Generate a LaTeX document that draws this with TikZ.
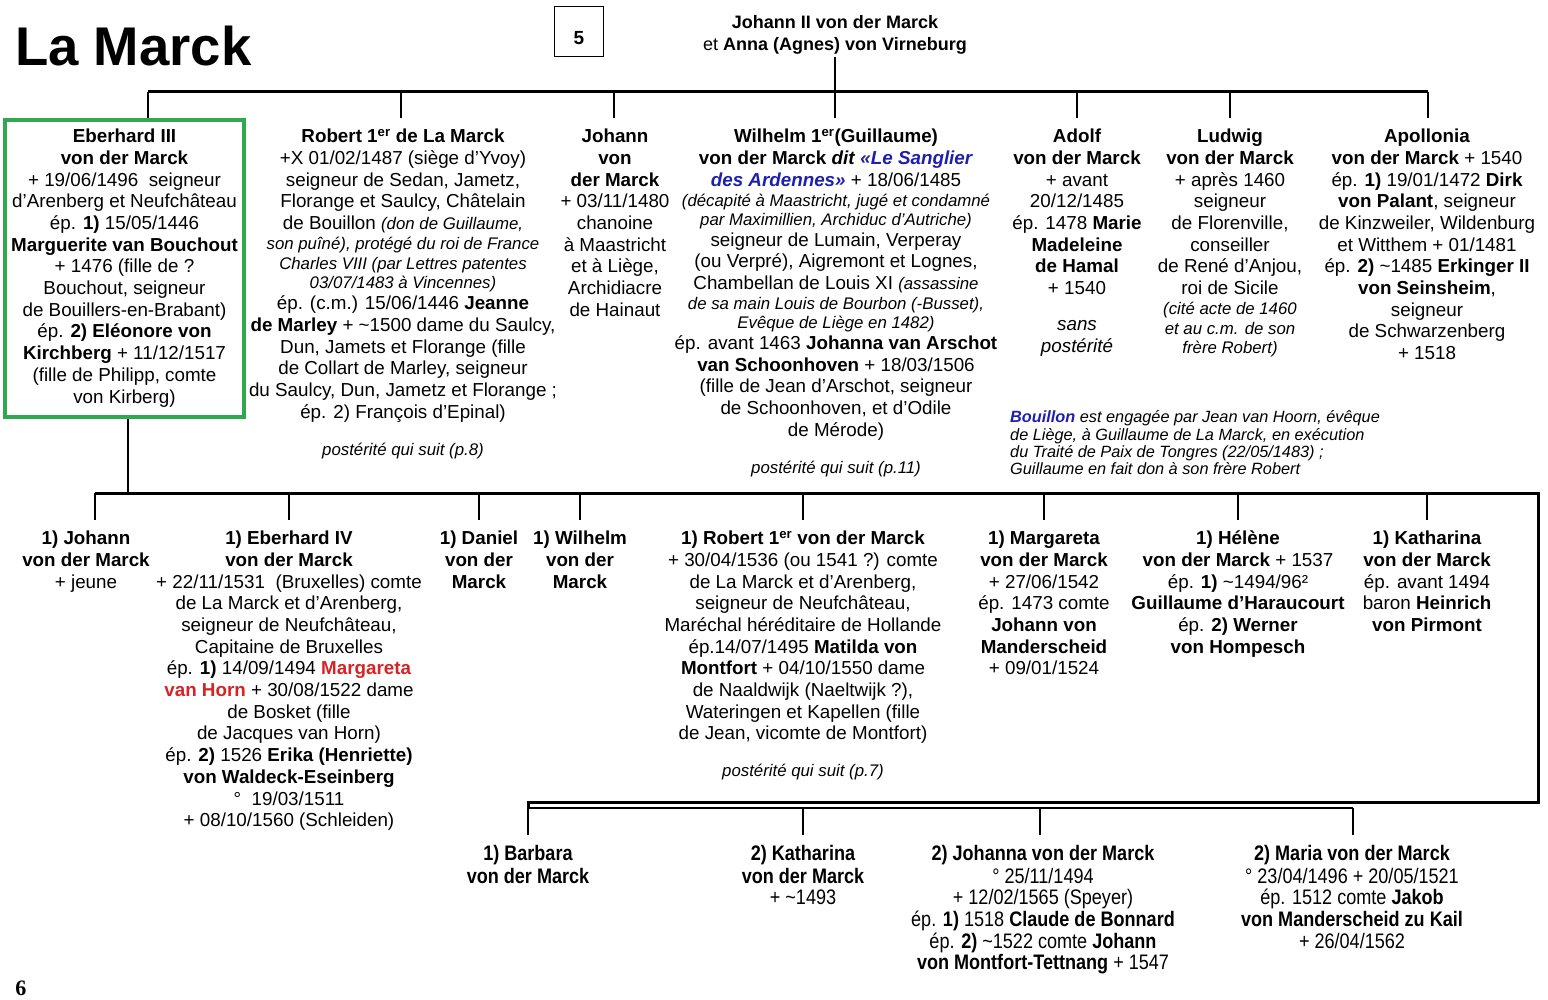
\documentclass[tikz,border=0pt]{standalone}
\usepackage{fontspec}
\setmainfont{Liberation Sans}
\newfontfamily\seriffont{Liberation Serif}
\newfontfamily\narrowfont[FakeStretch=0.86]{Liberation Sans}
\definecolor{boxgreen}{RGB}{48,168,80}
\definecolor{nameblue}{RGB}{30,30,175}
\definecolor{namered}{RGB}{215,35,35}
\newcommand{\ita}[1]{{\fontsize{16.8}{20}\selectfont\itshape #1}}
\newcommand{\bl}[1]{\textcolor{nameblue}{\textbf{\textit{#1}}}}
\newcommand{\rd}[1]{\textcolor{namered}{\textbf{#1}}}
\newcommand{\tld}{\textasciitilde}
\begin{document}
\begin{tikzpicture}[x=1pt,y=-1pt,
  txt/.style={font=\fontsize{18.8}{21.7}\selectfont, align=center, inner sep=0pt},
  person/.style={txt, anchor=north, outer xsep=0pt, outer ysep=9.5pt},
  narrowp/.style={person, outer ysep=10.4pt, font=\narrowfont\fontsize{21}{21.6}\selectfont},
  bus/.style={line width=3pt, line join=miter},
  lowbus/.style={line width=2.4pt, line join=miter},
  drop/.style={line width=1.8pt},
]
\useasboundingbox (0,0) rectangle (1548,1000);

% title and page box
\node[anchor=base west, inner sep=0pt, font=\bfseries\fontsize{54.5}{60}\selectfont] (title) at (15,66) {La Marck};
\node[draw, line width=1.2pt, minimum width=49pt, minimum height=50pt, inner sep=0pt,
      text height=27pt, text depth=0pt, font=\bfseries\fontsize{19}{22}\selectfont] (pg) at (579,31.5) {5};
\node[txt, anchor=north, font=\bfseries\fontsize{18}{22}\selectfont] (top) at (835,13)
  {\strut Johann II von der Marck\\ \textmd{et} Anna (Agnes) von Virneburg\strut};

% first bus
\coordinate (b1) at (148,92);
\coordinate (b2) at (401,92);
\coordinate (b3) at (614,92);
\coordinate (b4) at (835,92);
\coordinate (b5) at (1077,92);
\coordinate (b6) at (1230,92);
\coordinate (b7) at (1428,92);

% generation 1
\node[txt, draw=boxgreen, line width=3.6pt, minimum width=239.4pt, minimum height=297.4pt] (e3) at (124.5,268.5)
 {\strut\textbf{Eberhard III}\\
  \textbf{von der Marck}\\
  + 19/06/1496 \ seigneur\\
  d’Arenberg et Neufchâteau\\
  ép. \textbf{1)} 15/05/1446\\
  \textbf{Marguerite van Bouchout}\\
  + 1476 (fille de ?\\
  Bouchout, seigneur\\
  de Bouillers-en-Brabant)\\
  ép. \textbf{2) Eléonore von}\\
  \textbf{Kirchberg} + 11/12/1517\\
  (fille de Philipp, comte\\
  von Kirberg)\strut};

\node[person] (r1) at (403,118)
 {\strut\textbf{Robert 1\textsuperscript{er} de La Marck}\\
  +X 01/02/1487 (siège d’Yvoy)\\
  seigneur de Sedan, Jametz,\\
  Florange et Saulcy, Châtelain\\
  de Bouillon \ita{(don de Guillaume,}\\[-1.5pt]
  \ita{son puîné), protégé du roi de France}\\[-1.7pt]
  \ita{Charles VIII (par Lettres patentes}\\[-2.5pt]
  \ita{03/07/1483 à Vincennes)}\\[-0.7pt]
  ép. (c.m.) 15/06/1446 \textbf{Jeanne}\\
  \textbf{de Marley} + \tld1500 dame du Saulcy,\\
  Dun, Jamets et Florange (fille\\
  de Collart de Marley, seigneur\\
  du Saulcy, Dun, Jametz et Florange ;\\
  ép. 2) François d’Epinal)\\[15.3pt]
  \ita{postérité qui suit (p.8)}};

\node[person] (j1) at (615,118)
 {\strut\textbf{Johann}\\
  \textbf{von}\\
  \textbf{der Marck}\\
  + 03/11/1480\\
  chanoine\\
  à Maastricht\\
  et à Liège,\\
  Archidiacre\\
  de Hainaut};

\node[person] (w1) at (836,118)
 {\strut\textbf{Wilhelm 1\textsuperscript{er}(Guillaume)}\\
  \textbf{von der Marck} \textbf{\textit{dit}} \bl{«Le Sanglier}\\
  \bl{des Ardennes»} + 18/06/1485\\[-1.7pt]
  \ita{(décapité à Maastricht, jugé et condamné}\\[-2.7pt]
  \ita{par Maximillien, Archiduc d’Autriche)}\\[-0.7pt]
  seigneur de Lumain, Verperay\\
  (ou Verpré), Aigremont et Lognes,\\
  Chambellan de Louis XI \ita{(assassine}\\[-1.7pt]
  \ita{de sa main Louis de Bourbon (-Busset),}\\[-2.7pt]
  \ita{Evêque de Liège en 1482)}\\[-0.7pt]
  ép. avant 1463 \textbf{Johanna van Arschot}\\
  \textbf{van Schoonhoven} + 18/03/1506\\
  (fille de Jean d’Arschot, seigneur\\
  de Schoonhoven, et d’Odile\\
  de Mérode)\\[15.3pt]
  \ita{postérité qui suit (p.11)}};

\node[person] (a1) at (1077,118)
 {\strut\textbf{Adolf}\\
  \textbf{von der Marck}\\
  + avant\\
  20/12/1485\\
  ép. 1478 \textbf{Marie}\\
  \textbf{Madeleine}\\
  \textbf{de Hamal}\\
  + 1540\\[14.3pt]
  \textit{sans}\\
  \textit{postérité}};

\node[person] (l1) at (1230,118)
 {\strut\textbf{Ludwig}\\
  \textbf{von der Marck}\\
  + après 1460\\
  seigneur\\
  de Florenville,\\
  conseiller\\
  de René d’Anjou,\\
  roi de Sicile\\[-1.7pt]
  \ita{(cité acte de 1460}\\[-1.7pt]
  \ita{et au c.m. de son}\\[-2.7pt]
  \ita{frère Robert)}};

\node[person] (p1) at (1427,118)
 {\strut\textbf{Apollonia}\\
  \textbf{von der Marck} + 1540\\
  ép. \textbf{1)} 19/01/1472 \textbf{Dirk}\\
  \textbf{von Palant}, seigneur\\
  de Kinzweiler, Wildenburg\\
  et Witthem + 01/1481\\
  ép. \textbf{2)} \tld1485 \textbf{Erkinger II}\\
  \textbf{von Seinsheim},\\
  seigneur\\
  de Schwarzenberg\\
  + 1518};

\node[anchor=north west, align=left, inner sep=0pt, font=\fontsize{16.3}{17.3}\selectfont\itshape] (note) at (1010,410.4)
 {\strut\bl{Bouillon} est engagée par Jean van Hoorn, évêque\\
  de Liège, à Guillaume de La Marck, en exécution\\
  du Traité de Paix de Tongres (22/05/1483) ;\\
  Guillaume en fait don à son frère Robert};

% connectors generation 1
\draw[bus] (b1) -- (b7);
\draw[drop] (top.south) -- (b4);
\draw[drop] (b1) -- (b1 |- e3.north);
\draw[drop] (b2) -- (b2 |- r1.north);
\draw[drop] (b3) -- (b3 |- j1.north);
\draw[drop] (b4) -- (b4 |- w1.north);
\draw[drop] (b5) -- (b5 |- a1.north);
\draw[drop] (b6) -- (b6 |- l1.north);
\draw[drop] (b7) -- (b7 |- p1.north);

% second bus
\coordinate (e3d) at (128,493);
\coordinate (k1) at (95,493);
\coordinate (k2) at (289,493);
\coordinate (k3) at (479,493);
\coordinate (k4) at (580,493);
\coordinate (k5) at (803,493);
\coordinate (k6) at (1044,493);
\coordinate (k7) at (1238,493);
\coordinate (k8) at (1427,493);
\coordinate (k9) at (1538,493);
\coordinate (k10) at (1538,802);
\coordinate (m0) at (528,802);
\coordinate (m1) at (528,808);
\coordinate (m2) at (803,808);
\coordinate (m3) at (1040,808);
\coordinate (m4) at (1353,808);

% generation 2
\node[person] (c1) at (86,520)
 {\strut\textbf{1) Johann}\\
  \textbf{von der Marck}\\
  + jeune};

\node[person] (c2) at (289,520)
 {\strut\textbf{1) Eberhard IV}\\
  \textbf{von der Marck}\\
  + 22/11/1531 \ (Bruxelles) comte\\
  de La Marck et d’Arenberg,\\
  seigneur de Neufchâteau,\\
  Capitaine de Bruxelles\\
  ép. \textbf{1)} 14/09/1494 \rd{Margareta}\\
  \rd{van Horn} + 30/08/1522 dame\\
  de Bosket (fille\\
  de Jacques van Horn)\\
  ép. \textbf{2)} 1526 \textbf{Erika (Henriette)}\\
  \textbf{von Waldeck-Eseinberg}\\
  ° \ 19/03/1511\\
  + 08/10/1560 (Schleiden)};

\node[person] (c3) at (479,520)
 {\strut\textbf{1) Daniel}\\
  \textbf{von der}\\
  \textbf{Marck}};

\node[person] (c4) at (580,520)
 {\strut\textbf{1) Wilhelm}\\
  \textbf{von der}\\
  \textbf{Marck}};

\node[person] (c5) at (803,520)
 {\strut\textbf{1) Robert 1\textsuperscript{er} von der Marck}\\
  + 30/04/1536 (ou 1541 ?) comte\\
  de La Marck et d’Arenberg,\\
  seigneur de Neufchâteau,\\
  Maréchal héréditaire de Hollande\\
  ép.14/07/1495 \textbf{Matilda von}\\
  \textbf{Montfort} + 04/10/1550 dame\\
  de Naaldwijk (Naeltwijk ?),\\
  Wateringen et Kapellen (fille\\
  de Jean, vicomte de Montfort)\\[15.3pt]
  \ita{postérité qui suit (p.7)}};

\node[person] (c6) at (1044,520)
 {\strut\textbf{1) Margareta}\\
  \textbf{von der Marck}\\
  + 27/06/1542\\
  ép. 1473 comte\\
  \textbf{Johann von}\\
  \textbf{Manderscheid}\\
  + 09/01/1524};

\node[person] (c7) at (1238,520)
 {\strut\textbf{1) Hélène}\\
  \textbf{von der Marck} + 1537\\
  ép. \textbf{1)} \tld1494/96²\\
  \textbf{Guillaume d’Haraucourt}\\
  ép. \textbf{2) Werner}\\
  \textbf{von Hompesch}};

\node[person] (c8) at (1427,520)
 {\strut\textbf{1) Katharina}\\
  \textbf{von der Marck}\\
  ép. avant 1494\\
  baron \textbf{Heinrich}\\
  \textbf{von Pirmont}};

% generation 2, second marriage group
\node[narrowp] (d1) at (528,835)
 {\strut\textbf{1) Barbara}\\
  \textbf{von der Marck}};

\node[narrowp] (d2) at (803,835)
 {\strut\textbf{2) Katharina}\\
  \textbf{von der Marck}\\
  + \tld1493};

\node[narrowp] (d3) at (1043,835)
 {\strut\textbf{2) Johanna von der Marck}\\
  ° 25/11/1494\\
  + 12/02/1565 (Speyer)\\
  ép. \textbf{1)} 1518 \textbf{Claude de Bonnard}\\
  ép. \textbf{2)} \tld1522 comte \textbf{Johann}\\
  \textbf{von Montfort-Tettnang} + 1547};

\node[narrowp] (d4) at (1352,835)
 {\strut\textbf{2) Maria von der Marck}\\
  ° 23/04/1496 + 20/05/1521\\
  ép. 1512 comte \textbf{Jakob}\\
  \textbf{von Manderscheid zu Kail}\\
  + 26/04/1562};

% connectors generation 2
\draw[drop] (e3d |- e3.south) -- (e3d);
\draw[bus] (k1) -- (k9) -- (k10) -- (m0) -- (m1);
\draw[lowbus] (m1) -- (m4);
\draw[drop] (k1) -- (k1 |- c1.north);
\draw[drop] (k2) -- (k2 |- c2.north);
\draw[drop] (k3) -- (k3 |- c3.north);
\draw[drop] (k4) -- (k4 |- c4.north);
\draw[drop] (k5) -- (k5 |- c5.north);
\draw[drop] (k6) -- (k6 |- c6.north);
\draw[drop] (k7) -- (k7 |- c7.north);
\draw[drop] (k8) -- (k8 |- c8.north);
\draw[drop] (m1) -- (m1 |- d1.north);
\draw[drop] (m2) -- (m2 |- d2.north);
\draw[drop] (m3) -- (m3 |- d3.north);
\draw[drop] (m4) -- (m4 |- d4.north);

% page number
\node[inner sep=0pt, font=\seriffont\bfseries\fontsize{22}{24}\selectfont] (pnum) at (21,988) {6};
\end{tikzpicture}
\end{document}
